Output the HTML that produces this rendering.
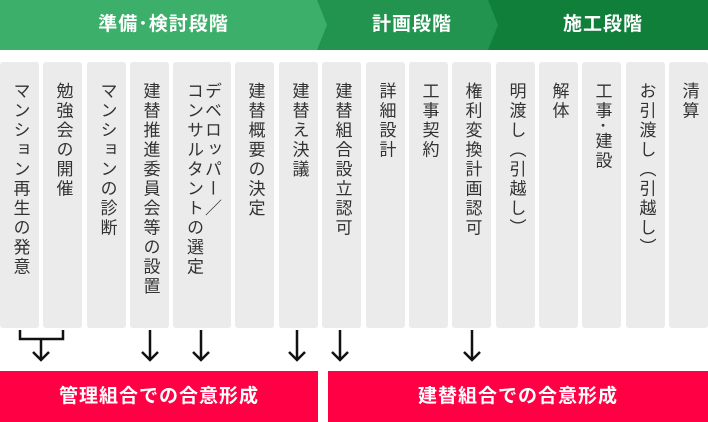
<!DOCTYPE html>
<html><head><meta charset="utf-8"><style>
*{margin:0;padding:0;box-sizing:border-box}
body{width:708px;height:422px;background:#fff;position:relative;overflow:hidden;font-family:"Liberation Sans","Noto Sans CJK JP",sans-serif}
.col{position:absolute;top:62px;height:266px;width:39px;background:#ebebeb;border-radius:3px}
.col span{position:absolute;top:20px;left:0;right:0;margin:auto;writing-mode:vertical-rl;font-size:17px;letter-spacing:2.5px;color:#333;line-height:18px;display:block;width:fit-content}
.hd{position:absolute;top:0;height:50px;color:#fff;font-weight:bold;font-size:19px;line-height:50px;text-align:center;letter-spacing:1px}
.red{position:absolute;top:371px;height:51px;background:#ff0044;color:#fff;font-weight:bold;font-size:19px;line-height:51px;text-align:center;letter-spacing:1px}
</style></head><body>
<svg width="708" height="50" style="position:absolute;left:0;top:0">
<polygon points="0,0 708,0 708,50 0,50" fill="#0f7f3a"/>
<polygon points="307,0 488,0 498,25 488,50 307,50" fill="#22944f"/>
<polygon points="0,0 317,0 327,25 317,50 0,50" fill="#3cb06a"/>
</svg>
<div class="hd" style="left:0;width:327px">準備･検討段階</div>
<div class="hd" style="left:327px;width:170px">計画段階</div>
<div class="hd" style="left:498px;width:210px">施工段階</div>

<div class="col" style="left:0"><span>マンション再生の発意</span></div>
<div class="col" style="left:43px"><span>勉強会の開催</span></div>
<div class="col" style="left:87px"><span>マンションの診断</span></div>
<div class="col" style="left:130px"><span>建替推進委員会等の設置</span></div>
<div class="col" style="left:173px;width:58px"><span>デベロッパー／<br>コンサルタントの選定</span></div>
<div class="col" style="left:235px"><span>建替概要の決定</span></div>
<div class="col" style="left:279px"><span>建替え決議</span></div>
<div class="col" style="left:322px"><span>建替組合設立認可</span></div>
<div class="col" style="left:366px"><span>詳細設計</span></div>
<div class="col" style="left:409px"><span>工事契約</span></div>
<div class="col" style="left:452px"><span>権利変換計画認可</span></div>
<div class="col" style="left:496px"><span>明渡し（引越し）</span></div>
<div class="col" style="left:539px"><span>解体</span></div>
<div class="col" style="left:582px"><span>工事･建設</span></div>
<div class="col" style="left:626px"><span>お引渡し（引越し）</span></div>
<div class="col" style="left:669px"><span>清算</span></div>

<svg width="708" height="50" style="position:absolute;left:0;top:328px" fill="none" stroke="#111" stroke-width="2.5">
<path d="M20,2 V11 H63 V2 M41,11 V32 M33,24 L41,32 L49,24"/>
<path d="M150,2 V32 M142,24 L150,32 L158,24"/>
<path d="M201,2 V32 M193,24 L201,32 L209,24"/>
<path d="M297,2 V32 M289,24 L297,32 L305,24"/>
<path d="M340,2 V32 M332,24 L340,32 L348,24"/>
<path d="M472,2 V32 M464,24 L472,32 L480,24"/>
</svg>

<div class="red" style="left:0;width:318px">管理組合での合意形成</div>
<div class="red" style="left:328px;width:380px">建替組合での合意形成</div>
</body></html>
